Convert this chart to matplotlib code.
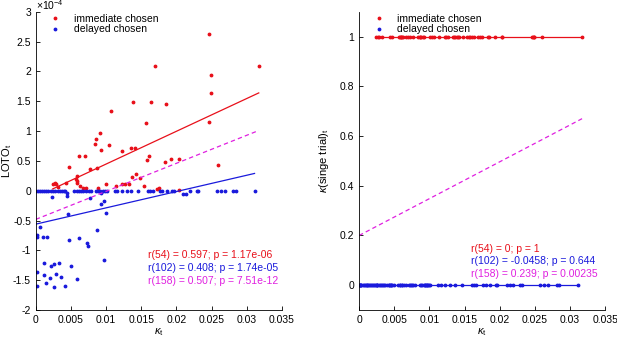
import numpy as np
import matplotlib.pyplot as plt
from matplotlib.ticker import FuncFormatter

plt.rcParams['font.family'] = ['Liberation Sans', 'DejaVu Sans']
plt.rcParams['mathtext.fontset'] = 'custom'
plt.rcParams['mathtext.rm'] = 'Liberation Sans'
plt.rcParams['mathtext.it'] = 'Liberation Sans:italic'

# immediate chosen trials: kappa_t and LOTO_t (x 1e-4)
imm_x = [0.02466, 0.01688, 0.03173, 0.02485, 0.02485, 0.01385, 0.01632, 0.01845, 0.01072,
         0.02462, 0.0156, 0.00906, 0.00863, 0.00844, 0.01039, 0.00925, 0.01347, 0.01413,
         0.01228, 0.00697, 0.00617, 0.01608, 0.01926, 0.02035, 0.0158, 0.01835, 0.02594,
         0.00474, 0.00764, 0.00868, 0.00593, 0.0058, 0.0057, 0.0059, 0.00436, 0.0024,
         0.0027, 0.0029, 0.0032, 0.00625, 0.0067, 0.0072, 0.0088, 0.01005, 0.01134, 0.0123,
         0.0127, 0.0133, 0.01366, 0.01418, 0.0148, 0.01537, 0.0172, 0.0175, 0.0203]
imm_loto = [2.626, 2.095, 2.095, 1.944, 1.642, 1.49, 1.48, 1.45, 1.33,
            1.15, 1.134, 0.966, 0.87, 0.79, 0.77, 0.69, 0.72, 0.71,
            0.67, 0.59, 0.575, 0.575, 0.54, 0.525, 0.51, 0.475, 0.425,
            0.39, 0.363, 0.374, 0.246, 0.17, 0.2, 0.13, 0.123, 0.11,
            0.13, 0.12, 0.055, 0.078, 0.04, 0.045, 0.04, 0.11, 0.08, 0.12,
            0.12, 0.11, 0.235, 0.28, 0.21, 0.085, 0.03, 0.045, 0.02]

# delayed chosen trials
del_x = [0, 0.0003, 0.0006, 0.0009, 0.0012, 0.0015, 0.0018, 0.0021, 0.0025, 0.0028,
         0.0031, 0.0034, 0.0037, 0.004, 0.0042, 0.0055, 0.0058, 0.0061, 0.0064, 0.0067,
         0.0071, 0.0075, 0.0079, 0.0086, 0.0089, 0.0092, 0.0095, 0.0098, 0.0101, 0.0112,
         0.0116, 0.0122, 0.0129, 0.0136, 0.0146, 0.016, 0.0163, 0.0166, 0.0176, 0.018,
         0.0186, 0.0194, 0.0196, 0.0219, 0.0229, 0.0231, 0.0257, 0.0263, 0.0269, 0.0281,
         0.0284, 0.0311, 0.021, 0.0214, 0.0044, 0.0093,
         0.00237, 0.0045, 0.0046, 0.0077, 0.0093, 0.0097, 0.00996, 0.00877, 0.00066,
         0.00014, 0.00024, 0.001, 0.00166, 0.00474, 0.00617, 0.00726, 0.00745, 0.00968,
         0.00114, 0.00256, 0.00332, 0.00223, 0.00498, 0.00019, 0.00119, 0.00294, 0.00356,
         0.00204, 0.00579, 0.00147, 0.00019, 0.00256, 0.00422]
del_loto = [0] * 52 + [-0.06, -0.06, -0.04, -0.03,
            -0.11, -0.08, -0.39, -0.12, -0.22, -0.18, -0.38, -0.65, -0.61,
            -0.74, -0.78, -0.78, -0.77, -0.83, -0.80, -0.88, -0.93, -1.16,
            -1.21, -1.22, -1.21, -1.27, -1.26, -1.36, -1.42, -1.40, -1.44,
            -1.46, -1.48, -1.55, -1.59, -1.61, -1.60]

# regression line end points
fit_x_imm = [0.0024, 0.0317]
fit_x_del = [0.0, 0.0311]
fit_x_all = [0.0, 0.0317]
left_fit_imm = [0.03, 1.64]
left_fit_del = [-0.56, 0.29]
left_fit_all = [-0.48, 1.01]
right_fit_imm = [1.0, 1.0]
right_fit_del = [0.0, 0.0]
right_fit_all = [0.2, 0.67]

left_stats = ['r(54) = 0.597; p = 1.17e-06',
              'r(102) = 0.408; p = 1.74e-05',
              'r(158) = 0.507; p = 7.51e-12']
right_stats = ['r(54) = 0; p = 1',
               'r(102) = -0.0458; p = 0.644',
               'r(158) = 0.239; p = 0.00235']

RED = '#e8101a'
BLUE = '#1a1adc'
MAG = '#e020e0'
fmt = FuncFormatter(lambda v, p: '%g' % round(v, 6))

fig = plt.figure(figsize=(6.17, 3.37), dpi=100)
ax1 = fig.add_axes([0.058, 0.080, 0.399, 0.885])
ax2 = fig.add_axes([0.582, 0.080, 0.399, 0.885])


def style(ax):
    for s in ['top', 'right']:
        ax.spines[s].set_visible(False)
    ax.tick_params(direction='in', labelsize=7.5, length=3, width=0.6)
    ax.spines['left'].set_linewidth(0.6)
    ax.spines['bottom'].set_linewidth(0.6)
    ax.xaxis.set_major_formatter(fmt)
    ax.yaxis.set_major_formatter(fmt)
    ax.set_xlim(0, 0.035)
    ax.set_xticks(np.arange(0, 0.0351, 0.005))
    ax.set_xlabel(r'$\kappa_\mathrm{t}$', fontsize=8, labelpad=1)


def legend(ax):
    ax.legend(loc='upper left', bbox_to_anchor=(0.02, 1.025), frameon=False, fontsize=7.5,
              handlelength=1.0, handletextpad=1.3, labelspacing=0.05)


# left panel
ax1.plot(imm_x, imm_loto, '.', color=RED, ms=3.5, label='immediate chosen')
ax1.plot(del_x, del_loto, '.', color=BLUE, ms=3.5, label='delayed chosen')
ax1.plot(fit_x_imm, left_fit_imm, '-', color=RED, lw=0.9)
ax1.plot(fit_x_del, left_fit_del, '-', color=BLUE, lw=0.9)
ax1.plot(fit_x_all, left_fit_all, '--', color=MAG, lw=0.9, dashes=(3.5, 2.5))
ax1.set_ylim(-2, 3)
ax1.set_yticks(np.arange(-2, 3.01, 0.5))
style(ax1)
ax1.set_ylabel(r'LOTO$_\mathrm{t}$', fontsize=8)
ax1.yaxis.set_label_coords(-0.09, 0.5)
ax1.text(0.0, 1.005, r'$\times$10$^{-4}$', transform=ax1.transAxes, fontsize=7.5)
for i, (s, c) in enumerate(zip(left_stats, [RED, BLUE, MAG])):
    ax1.text(0.455, 0.173 - i * 0.0435, s, color=c, fontsize=7.5, transform=ax1.transAxes)
legend(ax1)

# right panel
ax2.plot(imm_x, np.ones(len(imm_x)), '.', color=RED, ms=3.5, label='immediate chosen')
ax2.plot(del_x, np.zeros(len(del_x)), '.', color=BLUE, ms=3.5, label='delayed chosen')
ax2.plot(fit_x_imm, right_fit_imm, '-', color=RED, lw=0.9)
ax2.plot(fit_x_del, right_fit_del, '-', color=BLUE, lw=0.9)
ax2.plot(fit_x_all, right_fit_all, '--', color=MAG, lw=0.9, dashes=(3.5, 2.5))
ax2.set_ylim(-0.1, 1.1)
ax2.set_yticks(np.arange(0, 1.01, 0.2))
style(ax2)
ax2.set_ylabel(r'$\kappa$(singe trial)$_\mathrm{t}$', fontsize=8)
ax2.yaxis.set_label_coords(-0.115, 0.5)
for i, (s, c) in enumerate(zip(right_stats, [RED, BLUE, MAG])):
    ax2.text(0.455, 0.195 - i * 0.0415, s, color=c, fontsize=7.5, transform=ax2.transAxes)
legend(ax2)

fig.savefig('out.png', dpi=100)
